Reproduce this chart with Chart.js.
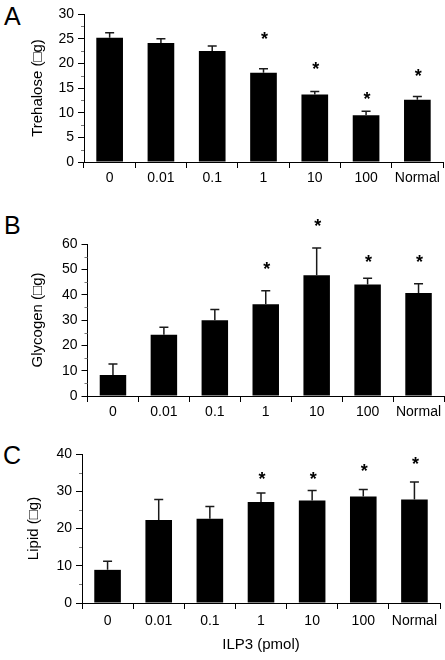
<!DOCTYPE html>
<html>
<head>
<meta charset="utf-8">
<script src="https://cdn.jsdelivr.net/npm/chart.js@4.4.1/dist/chart.umd.min.js"></script>
<style>
  html, body { margin: 0; padding: 0; background: #fff; }
  #wrap { position: relative; width: 445px; height: 660px; overflow: hidden; }
  canvas { position: absolute; left: 0; }
  .lbl { position: absolute; font-family: "Liberation Sans", Arial, sans-serif; font-size: 25px; line-height: 25px; color: #000; }
</style>
</head>
<body>
<div id="wrap">
  <div class="lbl" style="left:4px;top:4px;">A</div>
  <div class="lbl" style="left:4px;top:213px;">B</div>
  <div class="lbl" style="left:3px;top:443px;">C</div>
  <canvas id="cA" width="445" height="200" style="top:0px;"></canvas>
  <canvas id="cB" width="445" height="230" style="top:200px;"></canvas>
  <canvas id="cC" width="445" height="230" style="top:430px;"></canvas>
</div>
<script>
// ---- data ----
const categories = ['0', '0.01', '0.1', '1', '10', '100', 'Normal'];

const trehalose     = [25.2, 24.1, 22.5, 18.1, 13.7, 9.5, 12.6];
const trehaloseErr  = [26.2, 25.0, 23.5, 18.9, 14.3, 10.3, 13.3]; // upper end of error bar
const trehaloseStar = [null, null, null, 25.9, 19.8, 13.7, 18.3]; // significance marks

const glycogen      = [8.3, 24.2, 29.9, 36.2, 47.7, 44.0, 40.7];
const glycogenErr   = [12.6, 27.1, 34.1, 41.5, 58.4, 46.5, 44.3];
const glycogenStar  = [null, null, null, 51.8, 69.0, 54.7, 54.7];

const lipid         = [8.9, 22.3, 22.6, 27.1, 27.5, 28.6, 27.8];
const lipidErr      = [11.2, 27.8, 25.9, 29.5, 30.2, 30.5, 32.5];
const lipidStar     = [null, null, null, 34.6, 34.6, 36.7, 38.5];

const trehaloseTicks = [0, 5, 10, 15, 20, 25, 30];
const glycogenTicks  = [0, 10, 20, 30, 40, 50, 60];
const lipidTicks     = [0, 10, 20, 30, 40];

const xAxisTitle = 'ILP3 (pmol)';
// ---------------------------------------

const FONT = '"Liberation Sans", Arial, Helvetica, sans-serif';

const extrasPlugin = {
  id: 'extras',
  afterDatasetsDraw(chart, args, opts) {
    const ctx = chart.ctx;
    const meta = chart.getDatasetMeta(0);
    const ys = chart.scales.y;
    ctx.save();
    // error bars (upper only)
    ctx.strokeStyle = '#1a1a1a';
    ctx.lineWidth = 1.5;
    meta.data.forEach((bar, i) => {
      const e = opts.err[i];
      if (e == null) return;
      const yTop = ys.getPixelForValue(e);
      const x = bar.x;
      ctx.beginPath();
      ctx.moveTo(x, bar.y);
      ctx.lineTo(x, yTop);
      ctx.moveTo(x - 4.5, yTop);
      ctx.lineTo(x + 4.5, yTop);
      ctx.stroke();
    });
    // significance asterisks
    ctx.fillStyle = '#000';
    ctx.font = 'bold 18px ' + FONT;
    ctx.textAlign = 'center';
    ctx.textBaseline = 'alphabetic';
    meta.data.forEach((bar, i) => {
      const s = opts.star[i];
      if (s == null) return;
      const yc = ys.getPixelForValue(s);
      ctx.fillText('*', bar.x + 1, yc + 0.58 * 18);
    });
    // minor y ticks
    ctx.strokeStyle = '#777';
    ctx.lineWidth = 1;
    const t = opts.ticks;
    const xL = chart.chartArea.left;
    for (let k = 0; k < t.length - 1; k++) {
      const y = Math.round(ys.getPixelForValue((t[k] + t[k + 1]) / 2)) + 0.5;
      ctx.beginPath();
      ctx.moveTo(xL - 3, y);
      ctx.lineTo(xL, y);
      ctx.stroke();
    }
    ctx.restore();
  }
};

function makePanel(id, values, err, star, ticks, yTitle, layout, xTitle) {
  const step = ticks[1] - ticks[0];
  return new Chart(document.getElementById(id), {
    type: 'bar',
    data: {
      labels: categories,
      datasets: [{
        data: values,
        backgroundColor: '#000',
        borderWidth: 0,
        barPercentage: 0.52,
        categoryPercentage: 1.0
      }]
    },
    options: {
      responsive: false,
      animation: false,
      devicePixelRatio: 1,
      layout: { padding: layout.padding },
      plugins: {
        legend: { display: false },
        tooltip: { enabled: false },
        extras: { err: err, star: star, ticks: ticks }
      },
      scales: {
        x: {
          type: 'category',
          offset: true,
          grid: { offset: true, drawOnChartArea: false, drawTicks: true, tickLength: 6, color: '#000', lineWidth: 1 },
          border: { display: true, color: '#000', width: 1 },
          ticks: { color: '#000', font: { family: FONT, size: 14 }, padding: layout.xPad, maxRotation: 0, autoSkip: false },
          title: xTitle ? { display: true, text: xTitle, color: '#000', font: { family: FONT, size: 15 }, padding: { top: 0, bottom: layout.xTitlePad } } : { display: false },
          afterFit: s => { s.height = layout.xh; }
        },
        y: {
          min: ticks[0],
          max: ticks[ticks.length - 1],
          grid: { drawOnChartArea: false, drawTicks: true, tickLength: 6, color: '#000', lineWidth: 1 },
          border: { display: true, color: '#000', width: 1 },
          ticks: { stepSize: step, color: '#000', font: { family: FONT, size: 14 }, padding: 4 },
          title: { display: true, text: yTitle, color: '#000', font: { family: FONT, size: 15 }, padding: { top: 0, bottom: 0 } },
          afterFit: s => { s.width = layout.yw; }
        }
      }
    },
    plugins: [extrasPlugin]
  });
}

makePanel('cA', trehalose, trehaloseErr, trehaloseStar, trehaloseTicks, 'Trehalose (\u25A1g)',
  { padding: { left: 29, right: 2, top: 14, bottom: 0 }, yw: 55, xh: 38, xPad: 2 });
makePanel('cB', glycogen, glycogenErr, glycogenStar, glycogenTicks, 'Glycogen (\u25A1g)',
  { padding: { left: 29, right: 1, top: 44, bottom: 0 }, yw: 58.5, xh: 34, xPad: 2 });
makePanel('cC', lipid, lipidErr, lipidStar, lipidTicks, 'Lipid (\u25A1g)',
  { padding: { left: 25, right: 5, top: 24, bottom: 0 }, yw: 57, xh: 57, xPad: 4, xTitlePad: 6 }, xAxisTitle);
</script>
</body>
</html>
